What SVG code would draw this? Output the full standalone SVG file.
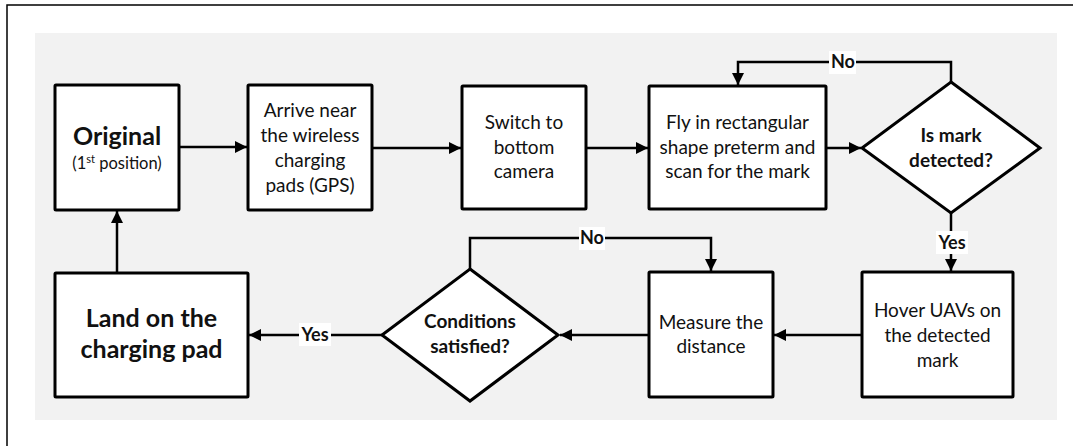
<svg xmlns="http://www.w3.org/2000/svg" width="1073" height="446" viewBox="0 0 1073 446">
  <defs>
    <marker id="arrow" viewBox="0 0 12 12" refX="12" refY="6" markerWidth="12" markerHeight="12" markerUnits="userSpaceOnUse" orient="auto">
      <path d="M0,0 L12,6 L0,12 Z" fill="#000"/>
    </marker>
  </defs>
  <style>
    .box { fill: #fff; stroke: #000; stroke-width: 3; }
    .link { fill: none; stroke: #000; stroke-width: 2.5; marker-end: url(#arrow); }
    text { font-family: Lato, "Liberation Sans", sans-serif; fill: #111; text-anchor: middle; }
    .t { font-size: 19px; }
    .tb { font-size: 19px; font-weight: bold; }
    .big { font-size: 25px; font-weight: bold; }
    .lbl { font-size: 18px; font-weight: bold; }
    .lblbg { fill: #fff; }
  </style>

  <!-- frame and panel -->
  <rect x="7" y="5" width="1080" height="460" fill="#fff" stroke="#000" stroke-width="1.5"/>
  <rect x="35" y="33" width="1022" height="387" fill="#f2f2f2"/>

  <!-- connectors -->
  <g id="connectors">
    <line class="link" x1="180" y1="147" x2="247" y2="147"/>
    <line class="link" x1="373" y1="148" x2="461" y2="148"/>
    <line class="link" x1="587" y1="148" x2="648" y2="148"/>
    <line class="link" x1="827" y1="148" x2="861" y2="148"/>
    <polyline class="link" points="951,82 951,62 738,62 738,85"/>
    <line class="link" x1="951" y1="213" x2="951" y2="271"/>
    <line class="link" x1="861" y1="335" x2="774" y2="335"/>
    <line class="link" x1="648" y1="335" x2="560" y2="335"/>
    <polyline class="link" points="470,269 470,238 711,238 711,271"/>
    <line class="link" x1="382" y1="335" x2="249" y2="335"/>
    <line class="link" x1="117" y1="272" x2="117" y2="211"/>

    <rect class="lblbg" x="829" y="51" width="27" height="23"/>
    <text class="lbl" x="843" y="68">No</text>
    <rect class="lblbg" x="936" y="231" width="32" height="23"/>
    <text class="lbl" x="952" y="249">Yes</text>
    <rect class="lblbg" x="579" y="227" width="26" height="23"/>
    <text class="lbl" x="592" y="244">No</text>
    <rect class="lblbg" x="299" y="323" width="32" height="23"/>
    <text class="lbl" x="315" y="341">Yes</text>
  </g>

  <g id="original">
    <rect class="box" x="55" y="85" width="124" height="125" rx="1"/>
    <text class="big" x="117" y="145">Original</text>
    <text x="117" y="169" style="font-size:16.5px">(1<tspan dy="-6" style="font-size:11px">st</tspan><tspan dy="6"> position)</tspan></text>
  </g>

  <g id="arrive">
    <rect class="box" x="248" y="85" width="124" height="125" rx="1"/>
    <text class="t" x="310" y="117">Arrive near</text>
    <text class="t" x="310" y="142">the wireless</text>
    <text class="t" x="310" y="167">charging</text>
    <text class="t" x="310" y="192">pads (GPS)</text>
  </g>

  <g id="switch">
    <rect class="box" x="462" y="86" width="124" height="123" rx="1"/>
    <text class="t" x="524" y="129">Switch to</text>
    <text class="t" x="524" y="154">bottom</text>
    <text class="t" x="524" y="178">camera</text>
  </g>

  <g id="fly">
    <rect class="box" x="649" y="86" width="177" height="123" rx="1"/>
    <text class="t" x="737.5" y="129">Fly in rectangular</text>
    <text class="t" x="737.5" y="154">shape preterm and</text>
    <text class="t" x="737.5" y="178">scan for the mark</text>
  </g>

  <g id="detected">
    <polygon class="box" points="951,82 1040,148 951,213 862,148"/>
    <text class="tb" x="951" y="142">Is mark</text>
    <text class="tb" x="951" y="167">detected?</text>
  </g>

  <g id="hover">
    <rect class="box" x="862" y="272" width="151" height="125" rx="1"/>
    <text class="t" x="937.5" y="317">Hover UAVs on</text>
    <text class="t" x="937.5" y="342">the detected</text>
    <text class="t" x="937.5" y="367">mark</text>
  </g>

  <g id="measure">
    <rect class="box" x="649" y="272" width="124" height="125" rx="1"/>
    <text class="t" x="711" y="329">Measure the</text>
    <text class="t" x="711" y="353">distance</text>
  </g>

  <g id="conditions">
    <polygon class="box" points="470,269 558,335 470,401 382,335"/>
    <text class="tb" x="470" y="328">Conditions</text>
    <text class="tb" x="470" y="353">satisfied?</text>
  </g>

  <g id="land">
    <rect class="box" x="55" y="273" width="193" height="124" rx="1"/>
    <text class="big" x="151.5" y="327">Land on the</text>
    <text class="big" x="151.5" y="358">charging pad</text>
  </g>
</svg>
